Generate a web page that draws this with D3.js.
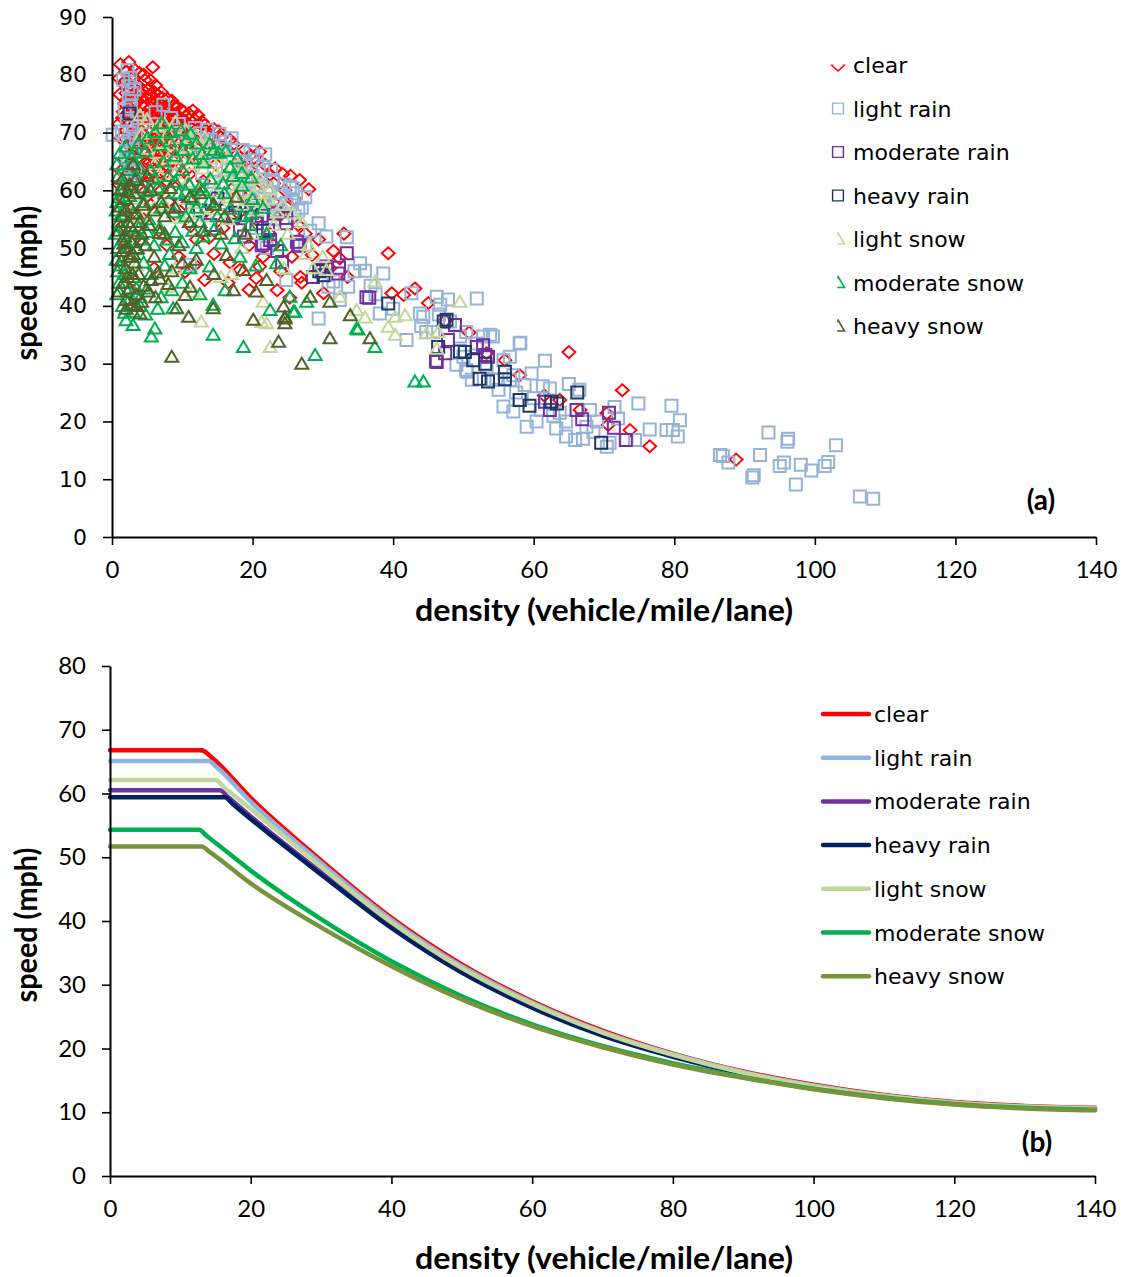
<!DOCTYPE html>
<html>
<head>
<meta charset="utf-8">
<script src="https://cdn.jsdelivr.net/npm/d3@7/dist/d3.min.js"></script>
<style>
  html, body { margin: 0; padding: 0; background: #fff; }
  svg { display: block; }
</style>
</head>
<body>
<svg id="fig" width="1123" height="1277"></svg>
<script>
// ---------- shared axis ticks ----------
const densityTicks = [0, 20, 40, 60, 80, 100, 120, 140];
const speedTicksA = [0, 10, 20, 30, 40, 50, 60, 70, 80, 90];
const speedTicksB = [0, 10, 20, 30, 40, 50, 60, 70, 80];
const conditions = ["clear", "light rain", "moderate rain", "heavy rain", "light snow", "moderate snow", "heavy snow"];

// ---------- panel (a): observed density / speed pairs ----------
const clearObs = [
  [1.2,81.8],[2.4,82.2],[2.0,80.5],[5.8,81.3],[1.0,79.4],[4.7,79.1],[3.5,78.2],[5.2,77.5],[6.5,76.5],[2.2,77.8],
  [3.0,76.4],[4.2,76.0],[5.6,75.2],[6.8,75.1],[7.5,74.3],[8.2,73.8],[1.8,75.0],[2.6,74.2],[3.8,73.6],[4.9,73.0],
  [6.0,72.6],[7.2,72.0],[8.6,72.5],[9.5,72.8],[10.4,72.0],[11.8,72.2],[13.2,71.3],[12.5,70.2],[1.5,72.5],[2.9,71.0],
  [4.0,70.5],[5.3,70.0],[6.4,69.4],[7.8,69.8],[9.0,70.6],[10.8,69.5],[1.3,69.0],[2.4,67.8],[3.6,67.2],[4.8,66.5],
  [6.1,66.8],[7.0,67.5],[8.4,67.2],[9.7,66.4],[1.7,65.5],[3.1,64.4],[4.5,63.8],[5.9,64.6],[7.3,64.0],[2.2,62.5],
  [1.0,61.0],[3.7,60.8],[6.6,62.0],[8.9,63.2],[14.5,70.6],[16.8,68.7],[15.5,69.2],[18.9,67.0],[17.8,66.2],[20.2,65.6],
  [21.8,64.4],[22.5,62.7],[24.3,62.8],[24.6,60.0],[23.0,61.2],[19.6,63.5],[21.0,61.5],[28.0,60.2],[26.0,58.5],
  [3.2,74.8],[4.4,72.4],[5.7,73.6],[6.9,70.8],[8.0,71.0],[3.4,69.6],[5.0,68.3],[2.0,70.3],[7.7,66.0],[4.0,65.4],
  [1.6,78.5],[2.8,79.8],[3.9,80.3],[4.3,77.4],[6.2,78.2],[7.0,77.0],[7.9,75.8],[8.8,74.6],[9.8,74.0],[10.9,73.3],
  [12.2,73.0],[1.1,76.6],[2.4,76.0],[3.4,75.3],[4.6,74.4],[5.1,75.9],[6.4,73.8],[7.6,73.1],[8.9,71.5],[10.0,70.9],
  [11.2,71.0],[12.8,71.9],[14.0,69.6],[15.2,70.2],[16.2,67.3],[17.3,68.0],[1.6,73.6],[2.5,72.9],[3.6,71.9],[4.7,71.3],
  [5.9,71.4],[7.0,70.3],[8.2,68.8],[9.3,68.2],[10.4,68.0],[11.6,68.6],[12.9,68.4],[1.0,71.5],[2.0,68.9],[3.1,68.6],
  [4.3,68.0],[5.6,67.6],[6.7,68.6],[7.6,65.5],[8.8,65.0],[10.1,65.0],[11.5,66.0],[2.5,66.3],[3.7,65.6],[4.9,64.9],
  [6.3,65.2],[1.3,63.4],[2.8,63.0],[4.1,62.2],[5.4,61.9],[6.9,63.1],[8.0,61.4],[9.9,61.5],[11.0,62.8],[13.0,61.6],
  [14.8,64.5],[16.0,62.5],[18.3,64.6],[19.6,66.0],[21.0,66.7],[23.2,63.8],[25.4,62.5],[26.7,61.8],[17.0,60.2],[19.0,58.6],
  [21.3,59.2],[23.0,58.0],[25.0,57.0],
  [2.0,79.0],[3.3,80.8],[4.5,80.0],[5.5,79.0],[6.0,77.0],[7.2,76.0],[8.5,75.5],[9.2,74.5],[10.2,73.6],[11.5,73.8],
  [3.0,77.8],[4.0,77.0],[5.3,76.5],[6.0,75.2],[7.0,74.8],[8.0,73.0],[9.0,73.2],[10.5,72.8],[2.0,76.8],[2.9,75.3],
  [4.2,74.8],[5.5,74.3],[6.6,74.5],[7.8,72.5],[9.2,71.8],[10.0,71.8],[11.0,72.3],[2.4,73.5],[3.5,72.7],[4.5,73.0],
  [5.8,72.8],[6.8,72.0],[8.1,71.5],[9.6,70.8],[11.8,70.3],[3.2,70.2],[4.6,69.6],[5.8,69.0],[7.2,68.8],[8.8,69.3],
  [10.2,69.5],[12.0,69.0],[13.5,70.2],[3.0,66.8],[4.2,66.8],[5.5,66.0],[6.9,66.3],[8.0,66.8],[9.2,67.2],[10.9,66.9],
  [12.2,67.5],[13.8,67.8],[15.0,68.0],[2.2,64.2],[3.4,63.5],[5.2,63.0],[6.4,63.8],[8.1,63.9],[9.5,64.2],[11.0,64.0],
  [12.3,65.2],[14.0,66.5],
  [1.5,58.5],[2.8,56.0],[1.2,53.5],[3.6,52.0],[2.1,50.0],[4.5,55.0],[5.5,57.5],[6.7,53.0],[7.8,50.5],[9.0,55.8],
  [10.4,45.9],[11.8,47.1],[13.2,44.5],[12.0,51.5],[14.5,49.0],[15.8,53.5],[16.8,47.5],[18.2,46.2],[19.5,50.5],[20.5,44.8],
  [21.5,48.5],[22.4,52.5],[23.5,42.7],[23.9,55.7],[25.3,41.4],[25.6,48.5],[24.0,46.0],[26.8,45.0],[27.5,52.5],[29.4,51.5],
  [30.1,42.2],[31.0,46.5],[32.4,48.2],[33.5,45.0],
  [5.0,59.0],[7.0,60.0],[8.0,58.0],[10.5,57.5],[12.0,59.5],[13.5,56.5],[15.0,58.5],[11.2,53.8],[13.8,51.8],[9.5,48.5],
  [6.0,46.5],[3.0,44.5],[16.5,44.0],[19.5,42.8],[21.0,46.8],[23.0,50.5],[18.0,56.0],[20.5,55.0],[26.5,54.0],[28.5,48.8],
  [27.0,44.0],[31.5,49.5],[33.0,52.5],
  [39.3,49.1],[39.8,42.2],[41.5,41.9],[43.1,43.0],[45.0,40.5],[47.4,37.4],[50.8,35.4],[53.3,31.8],[55.9,30.6],[63.7,23.7],
  [65.0,32.0],[66.6,22.0],[70.4,21.4],[70.6,19.4],[72.6,25.4],[73.7,18.5],[76.5,15.7],[88.8,13.4],[58.0,28.0],[61.5,24.5]
];
const lightRainObs = [
  [2.2,80.8],[2.6,79.5],[2.3,78.0],[2.8,76.8],[2.4,75.5],[2.7,74.5],[2.1,72.0],[2.9,71.0],[2.5,70.0],[2.3,68.5],
  [3.0,67.0],[2.2,65.5],[2.6,64.0],[1.9,62.5],[2.8,61.0],[0.1,69.6],[1.4,70.2],[3.4,69.3],
  [3.6,72.5],[1.8,74.0],[3.2,77.5],[1.6,79.2],[2.0,66.8],[3.3,63.2],[4.5,71.8],[6.2,73.5],[8.4,72.5],[10.3,70.0],
  [11.8,70.8],[13.5,70.5],[15.3,69.8],[17.0,69.0],[19.7,66.6],[21.8,66.2],[22.6,63.5],[24.5,61.0],[26.2,59.5],[27.5,58.8],
  [18.3,65.0],[16.0,67.2],[14.0,65.0],[20.8,61.0],[22.5,59.5],[24.8,57.8],[26.0,55.5],[23.0,55.0],[20.0,57.0],[18.8,59.5],
  [15.5,60.5],[13.2,58.5],[9.0,64.8],[30.5,52.0],[27.5,50.5],
  [7.3,74.8],[9.5,71.5],[12.5,69.9],[14.0,68.8],[16.1,68.4],[18.6,67.0],[20.6,65.2],[21.5,64.0],[22.9,61.8],[25.3,60.6],
  [19.0,64.2],[17.2,65.8],[15.0,66.5],[13.0,66.0],[11.0,67.5],[20.0,62.5],[22.0,60.5],[24.0,59.5],[23.5,57.5],[25.7,60.4],
  [25.6,58.0],[23.9,56.6],[21.5,58.5],[19.5,60.2],[18.0,62.0],[16.5,63.5],[17.8,59.0],[14.5,61.5],[12.8,63.0],[26.5,56.5],
  [28.2,53.0],[29.4,54.3],[27.0,57.0],[11.1,47.1],[24.8,44.5],[22.0,50.0],[20.5,53.5],[26.5,51.0],
  [33.4,51.9],[35.3,47.4],[36.0,46.1],[38.6,45.6],[33.6,43.3],[32.4,41.0],[29.4,37.8],[38.1,38.7],[42.6,42.2],[46.2,41.6],
  [47.8,41.1],[51.9,41.3],[43.8,38.7],[41.9,34.1],[44.7,35.5],[50.4,35.5],[52.8,34.7],[54.2,34.7],[58.0,33.5],[56.6,31.2],
  [56.6,27.2],[50.4,28.9],[51.2,27.2],[54.2,27.2],[31.5,44.2],[30.8,43.3],[44.3,38.1],[45.7,35.5],[46.7,40.2],[48.1,37.3],
  [49.0,29.8],[49.5,34.7],[50.0,31.2],[50.5,28.6],[51.9,33.5],[53.3,29.5],[53.8,35.0],[54.7,27.2],[55.7,30.6],[55.7,22.6],
  [57.1,28.0],[57.1,21.7],[58.0,23.7],[58.1,33.6],[58.7,26.3],[59.0,19.1],[59.7,28.3],[60.4,20.0],[61.3,26.1],[61.6,30.5],
  [62.3,25.7],[63.2,18.8],[63.7,21.5],[64.6,20.0],[64.6,17.4],[65.9,16.8],[67.5,19.1],[68.5,18.2],[70.4,15.6],[70.8,16.3],
  [73.2,16.8],[74.4,16.8],[74.9,23.1],[76.5,18.6],[78.9,18.5],[79.6,22.7],[79.8,18.5],[80.5,17.4],[80.8,20.2],[86.5,14.2],
  [86.9,14.0],[87.7,12.9],[91.1,10.3],[91.3,10.7],[92.2,14.2],[93.4,18.1],[95.0,12.3],[95.6,12.9],[96.1,16.5],[96.2,17.0],
  [97.3,9.1],[98.0,12.5],[99.5,11.5],[101.4,12.3],[101.9,13.0],[103.0,15.9],[106.4,7.0],[108.3,6.6],
  [34.5,46.0],[36.8,43.5],[40.0,39.5],[37.5,42.0],[44.0,36.5],[46.5,38.5],[57.5,25.0],[60.0,24.0],[62.8,21.0],[65.0,26.5],
  [66.5,25.5],[68.0,22.0],[69.0,20.0],[71.5,22.5],[72.0,20.5],[67.0,17.0],[61.0,22.0],[55.0,25.5]
];
const moderateRainObs = [
  [17.2,55.4],[19.1,55.7],[18.2,53.1],[20.6,54.3],[21.5,50.8],[22.5,51.4],[26.3,51.1],[24.8,54.3],[16.3,57.7],[23.2,56.0],
  [19.9,56.1],[21.3,55.6],[22.2,53.1],[21.3,50.5],[26.5,50.4],[24.2,47.6],[29.9,46.2],[32.3,46.6],[33.4,49.1],[36.6,41.4],
  [26.7,50.5],[24.8,55.2],[32.2,45.6],[30.5,46.8],[28.6,45.0],[36.2,41.5],[46.2,30.3],[47.4,31.8],[48.8,36.7],[52.8,33.2],
  [53.1,31.5],[47.8,34.1],[46.1,30.5],[51.9,32.9],[53.5,31.2],[61.6,23.4],[62.3,22.0],[66.1,22.0],[66.9,20.4],[70.7,21.5],
  [71.4,18.9],[73.1,16.8],[9.7,57.3],[14.0,54.0],[18.8,52.0],[23.5,49.5]
];
const heavyRainObs = [
  [2.5,73.3],[17.5,56.1],[15.0,58.6],[12.5,56.5],[19.8,57.5],[21.5,53.0],[30.1,45.3],[29.5,46.0],[39.3,40.4],[47.2,37.3],
  [46.4,32.9],[49.5,32.1],[51.4,30.6],[53.1,30.0],[52.3,27.4],[53.5,26.9],[55.9,28.6],[55.9,27.3],[58.0,23.7],[59.4,22.7],
  [62.5,23.4],[63.3,23.1],[66.2,25.0],[69.6,16.3],[47.6,37.6],[50.2,32.0]
];
const lightSnowObs = [
  [5.0,72.3],[6.5,71.0],[8.0,70.0],[9.5,69.0],[4.2,69.8],[7.0,68.2],[10.5,67.5],[12.0,66.8],[13.5,67.8],[15.0,67.0],
  [16.5,65.8],[18.0,64.5],[19.5,63.2],[21.0,62.0],[11.2,64.5],[13.0,63.8],[14.8,63.0],[16.5,62.3],[18.2,61.0],[20.2,59.5],
  [22.3,58.5],[9.0,63.0],[10.8,61.5],[12.6,60.5],[14.6,59.8],[16.6,58.7],[18.6,57.5],[20.6,56.5],[12.0,57.8],[14.2,56.8],
  [8.2,60.3],[6.0,64.5],[5.5,60.0],[7.5,57.5],[3.5,58.5],[4.0,55.5],[2.2,57.0],[9.8,55.2],[24.3,57.5],[25.8,56.0],
  [23.0,54.0],[27.0,54.5],
  [4.0,73.0],[6.0,70.0],[7.5,71.5],[9.0,71.8],[10.5,70.5],[12.0,69.5],[13.2,69.2],[11.0,68.8],[8.5,67.8],[6.5,66.5],
  [5.0,67.2],[8.0,65.5],[10.0,65.5],[12.5,65.2],[14.0,65.5],[15.8,64.0],[17.5,63.0],[19.0,61.8],[20.8,60.8],[22.5,60.2],
  [17.5,59.8],[19.3,58.3],[21.5,58.0],[23.5,56.2],[15.5,57.5],[13.5,55.5],[11.0,56.0],[16.5,55.0],[7.0,62.5],[10.0,58.5],
  [6.0,57.0],[20.0,52.5],[25.0,52.5],[28.0,50.5],[17.0,45.5],[9.0,46.5],[27.5,49.0],[24.5,46.5],
  [7.8,43.3],[11.6,42.5],[12.7,37.3],[21.5,40.7],[22.0,37.0],[22.5,32.9],[21.3,37.2],[15.5,45.0],[3.5,47.0],[18.5,50.0],
  [28.6,46.5],[30.5,46.2],[32.4,41.6],[34.8,39.3],[37.4,44.2],[39.3,36.4],[40.3,38.1],[41.7,38.4],[40.3,35.0],[44.7,35.2],
  [46.4,35.5],[46.2,32.6],[49.5,40.7],[30.0,48.5],[36.0,38.0]
];
const moderateSnowObs = [
  [6.1,70.1],[7.1,71.6],[8.5,70.1],[10.6,68.7],[12.0,68.1],[13.9,68.1],[10.1,67.0],[4.7,66.7],[1.1,66.4],[2.8,65.8],
  [7.3,65.0],[12.5,60.6],[9.0,66.0],[11.5,65.5],[13.0,64.8],[15.2,66.5],[16.8,64.0],[5.5,63.5],[8.0,62.5],[10.0,63.5],
  [14.0,62.0],[3.5,62.2],[1.5,61.0],[6.5,60.5],[9.5,59.5],[11.5,58.5],[13.8,58.0],[16.0,59.5],[18.5,60.8],[20.0,58.5],
  [21.5,57.0],[2.5,59.0],[4.5,58.0],[7.0,57.0],[8.8,56.2],[10.5,55.5],[12.5,54.5],[15.0,55.5],[17.5,51.7],[3.0,56.0],
  [5.2,55.0],[1.0,54.5],[6.8,53.5],[9.0,52.8],[2.0,52.5],[4.0,51.5],[0.8,50.0],[6.0,50.5],[8.2,49.0],[2.8,48.5],
  [1.2,47.0],[4.5,47.5],[3.2,45.0],[1.0,44.0],[5.5,45.5],[2.2,42.5],[4.0,41.5],[1.5,40.0],[3.0,39.0],[2.0,37.5],
  [4.8,38.5],[3.0,36.7],[1.3,55.8],[0.7,58.0],[0.9,62.5],[2.2,63.5],[0.6,48.0],[1.8,45.5],[2.5,50.0],[3.8,53.5],
  [5.0,69.0],[6.8,67.8],[3.8,68.2],[2.0,67.6],[8.2,68.5],[9.8,70.4],[11.2,69.8],[12.8,66.3],[14.5,67.0],[16.2,66.8],
  [17.8,65.5],[18.5,63.0],[19.8,62.2],[15.8,61.2],[17.2,62.5],[13.0,60.0],[11.0,61.0],[9.0,61.5],[7.5,59.5],[5.0,59.8],
  [3.0,60.5],[1.0,58.8],[4.0,63.8],[6.0,62.0],[10.5,59.8],[12.0,57.0],[14.5,57.5],[16.8,56.8],[18.5,55.6],[19.8,56.0],
  [1.8,53.8],[3.5,49.8],[5.0,52.8],[7.8,51.5],[10.0,51.0],[11.5,53.0],[13.0,52.0],[14.5,53.2],[1.5,51.5],[0.8,46.0],
  [2.0,44.0],[3.5,43.0],[0.7,42.0],[1.8,38.8],[4.0,40.0],[2.5,41.2],[6.5,39.5],[1.2,60.0],[0.7,64.5],[3.2,66.5],
  [0.5,52.5],[0.6,56.5],
  [7.5,47.0],[8.5,42.7],[8.7,39.6],[6.1,36.1],[5.6,34.7],[14.4,35.0],[14.4,40.2],[16.1,42.7],[18.7,32.9],[22.5,39.3],
  [25.3,41.6],[18.2,48.5],[23.4,47.4],[25.8,39.0],[13.9,46.8],[11.1,46.5],[27.7,40.7],[26.0,39.0],[34.8,36.1],[35.0,35.9],
  [37.4,32.9],[28.9,31.5],[43.1,26.9],[44.3,26.9],[19.5,54.0],[22.0,52.5],[24.0,50.5],[20.5,47.0],[12.0,50.0],[15.5,50.8],
  [10.0,44.0],[7.0,41.5],[5.0,43.0],[12.5,42.0]
];
const heavySnowObs = [
  [1.5,62.0],[2.5,61.0],[3.2,59.5],[1.8,58.5],[2.7,57.0],[3.5,56.0],[1.4,55.5],[2.3,54.5],[3.0,53.0],[1.8,52.0],
  [2.8,51.0],[3.6,50.0],[1.5,49.5],[2.4,48.5],[3.2,47.5],[1.9,46.5],[2.9,45.5],[1.6,44.0],[2.5,43.0],[3.4,42.0],
  [2.0,41.0],[1.3,60.2],[2.0,56.5],[2.6,53.8],[1.7,50.8],[3.9,54.5],[4.5,57.5],[5.5,60.0],[8.3,60.4],[11.1,58.9],
  [1.2,57.2],[2.2,59.8],[3.3,61.8],[4.2,60.5],[1.0,53.0],[2.0,50.0],[3.0,49.0],[4.2,52.5],[3.8,45.5],[1.3,47.8],
  [2.2,45.0],[4.5,43.5],[1.0,42.5],[2.0,39.5],[6.0,56.5],[5.3,54.0],[7.5,52.5],[6.5,45.8],[8.5,46.0],[10.0,47.5],
  [9.0,57.0],[11.0,54.5],[12.5,59.5],[14.5,57.5],[15.5,52.5],[3.5,40.0],[6.2,41.5],[8.0,43.8],
  [17.7,58.9],[6.8,52.6],[5.6,44.5],[6.8,44.7],[5.2,42.5],[4.2,40.7],[2.8,40.2],[4.0,38.7],[10.4,41.9],[10.9,38.1],
  [8.5,31.2],[9.2,39.6],[14.4,39.6],[17.3,42.7],[20.1,37.6],[23.7,33.8],[24.6,38.1],[24.6,37.0],[16.3,48.8],[18.7,46.2],
  [11.1,43.3],[27.0,30.0],[31.0,34.4],[36.7,34.4],[33.9,38.4],[28.2,41.6],[31.0,40.7],[24.4,39.9],[24.6,37.8],[7.5,55.5],
  [9.5,50.5],[13.0,53.0],[6.0,48.5],[4.8,50.5],[14.5,45.5],[20.5,42.5],[22.0,44.5],[12.0,48.0],[3.0,64.5],[5.0,62.5],
  [7.0,58.0],[16.0,55.5],[19.0,52.5]
];

// ---------- panel (b): fitted speed-density curves ----------
const clearFit = [[0,66.8],[13.0,66.8],[14.5,65.6],[20,59.3],[30,49.5],[40,40.5],[50,33.2],[60,27.4],[70,22.8],[80,19.2],[90,16.4],[100,14.3],[110,12.7],[120,11.6],[130,11.0],[140,10.7]];
const lightRainFit = [[0,65.1],[14.0,65.1],[15.3,64.0],[20,58.7],[30,49.1],[40,40.2],[50,32.9],[60,27.2],[70,22.6],[80,19.1],[90,16.3],[100,14.2],[110,12.6],[120,11.5],[130,10.9],[140,10.6]];
const moderateRainFit = [[0,60.5],[15.6,60.5],[16.8,59.4],[20,56.4],[30,47.6],[40,39.1],[50,32.1],[60,26.6],[70,22.2],[80,18.8],[90,16.1],[100,14.0],[110,12.5],[120,11.4],[130,10.8],[140,10.5]];
const heavyRainFit = [[0,59.4],[16.3,59.4],[17.5,58.3],[20,56.0],[30,47.3],[40,38.9],[50,31.9],[60,26.4],[70,22.0],[80,18.7],[90,16.0],[100,13.9],[110,12.4],[120,11.4],[130,10.8],[140,10.5]];
const lightSnowFit = [[0,62.1],[15.0,62.1],[16.2,61.0],[20,57.6],[30,48.5],[40,39.8],[50,32.6],[60,27.0],[70,22.5],[80,19.0],[90,16.2],[100,14.1],[110,12.6],[120,11.5],[130,10.9],[140,10.6]];
const moderateSnowFit = [[0,54.3],[12.6,54.3],[13.8,53.3],[20,47.9],[30,40.3],[40,33.7],[50,28.2],[60,23.8],[70,20.4],[80,17.7],[90,15.5],[100,13.7],[110,12.3],[120,11.3],[130,10.7],[140,10.4]];
const heavySnowFit = [[0,51.7],[13.0,51.7],[14.2,50.8],[20,45.9],[30,39.0],[40,32.9],[50,27.7],[60,23.5],[70,20.2],[80,17.5],[90,15.4],[100,13.6],[110,12.2],[120,11.2],[130,10.6],[140,10.3]];

// ---------- styling ----------
const markerStyle = [
  { shape: "diamond",  color: "#FF0000", width: 1.9 },
  { shape: "square",   color: "#95B3D7", width: 2.0 },
  { shape: "square",   color: "#7030A0", width: 2.0 },
  { shape: "square",   color: "#1F3864", width: 2.0 },
  { shape: "triangle", color: "#C3D69B", width: 2.0 },
  { shape: "triangle", color: "#00B050", width: 2.0 },
  { shape: "triangle", color: "#4F6228", width: 2.0 }
];
const lineColors = ["#FF0000", "#8DB4E2", "#7030A0", "#002060", "#C3D69B", "#00B050", "#77933C"];
const observed = [clearObs, lightRainObs, moderateRainObs, heavyRainObs, lightSnowObs, moderateSnowObs, heavySnowObs];
const fitted = [clearFit, lightRainFit, moderateRainFit, heavyRainFit, lightSnowFit, moderateSnowFit, heavySnowFit];

const shapes = {
  diamond: "M0,-6L6.5,0L0,6L-6.5,0Z",
  square: "M-6,-6H6V6H-6Z",
  triangle: "M0,-6L6.5,5L-6.5,5Z"
};

const svg = d3.select("#fig");
svg.append("rect").attr("width", 1123).attr("height", 1277).attr("fill", "#fff");
const defs = svg.append("defs");

const tickFont = "Lato, 'Liberation Sans', sans-serif";
const wideFont = "'DejaVu Sans', Verdana, sans-serif";

function styleAxis(g, font, size) {
  g.select(".domain").attr("stroke", "#000").attr("stroke-width", 2);
  g.selectAll(".tick line").attr("stroke", "#000").attr("stroke-width", 1.6);
  g.selectAll(".tick text").attr("fill", "#000").style("font-family", font).style("font-size", size + "px");
}

// ================= panel (a) =================
const xa = d3.scaleLinear().domain([0, 140]).range([112, 1096]);
const ya = d3.scaleLinear().domain([0, 90]).range([537, 17]);

const pa = svg.append("g");
observed.forEach((pts, i) => {
  const st = markerStyle[i];
  pa.append("g").selectAll("path").data(pts).join("path")
    .attr("d", shapes[st.shape])
    .attr("transform", d => `translate(${xa(d[0])},${ya(d[1])})`)
    .attr("fill", "none")
    .attr("stroke", st.color)
    .attr("stroke-width", st.width);
});

const axA = svg.append("g").attr("transform", "translate(0,537)")
  .call(d3.axisBottom(xa).tickValues(densityTicks).tickSize(8).tickSizeOuter(0).tickPadding(16).tickFormat(d3.format("d")));
styleAxis(axA, tickFont, 24);
const ayA = svg.append("g").attr("transform", "translate(112,0)")
  .call(d3.axisLeft(ya).tickValues(speedTicksA).tickSize(9).tickSizeOuter(0).tickPadding(16).tickFormat(d3.format("d")));
styleAxis(ayA, wideFont, 22);

svg.append("text").attr("x", 604).attr("y", 621).attr("text-anchor", "middle")
  .style("font-family", tickFont).style("font-weight", "bold").style("font-size", "30px")
  .attr("textLength", 378).attr("lengthAdjust", "spacingAndGlyphs")
  .text("density (vehicle/mile/lane)");
svg.append("text").attr("transform", "translate(37,283) rotate(-90)").attr("text-anchor", "middle")
  .style("font-family", tickFont).style("font-weight", "bold").style("font-size", "30px")
  .attr("textLength", 155).attr("lengthAdjust", "spacingAndGlyphs")
  .text("speed (mph)");
svg.append("text").attr("x", 1041).attr("y", 510).attr("text-anchor", "middle")
  .style("font-family", tickFont).style("font-weight", "bold").style("font-size", "28px").text("(a)");

// legend (a): the diamond and triangle keys show only part of the marker
const legA = svg.append("g");
conditions.forEach((name, i) => {
  const cy = 65 + i * 43.5, cx = 838;
  const st = markerStyle[i];
  const key = legA.append("g").attr("transform", `translate(${cx},${cy})`);
  let clipRect = null;
  if (st.shape === "diamond") clipRect = { x: -8, y: -0.5, w: 16, h: 9 };
  else if (st.shape === "triangle") clipRect = { x: -0.8, y: -8, w: 10, h: 16 };
  const mark = key.append("path").attr("d", shapes[st.shape])
    .attr("fill", "none").attr("stroke", st.color).attr("stroke-width", 1.6);
  if (st.shape === "square") mark.attr("transform", "scale(0.9)");
  if (clipRect) {
    const clipId = "keyclip" + i;
    defs.append("clipPath").attr("id", clipId).append("rect")
      .attr("x", clipRect.x).attr("y", clipRect.y).attr("width", clipRect.w).attr("height", clipRect.h);
    mark.attr("clip-path", `url(#${clipId})`);
  }
  legA.append("text").attr("x", 853).attr("y", cy + 8)
    .style("font-family", wideFont).style("font-size", "22px").attr("fill", "#000").text(name);
});

// ================= panel (b) =================
const xb = d3.scaleLinear().domain([0, 140]).range([110, 1095]);
const yb = d3.scaleLinear().domain([0, 80]).range([1176, 666]);

const line = d3.line().x(d => xb(d[0])).y(d => yb(d[1])).curve(d3.curveMonotoneX);
const pb = svg.append("g");
fitted.forEach((pts, i) => {
  pb.append("path").datum(pts).attr("d", line)
    .attr("fill", "none").attr("stroke", lineColors[i]).attr("stroke-width", 4.5)
    .attr("stroke-linejoin", "round").attr("stroke-linecap", "round");
});

const axB = svg.append("g").attr("transform", "translate(0,1176)")
  .call(d3.axisBottom(xb).tickValues(densityTicks).tickSize(8).tickSizeOuter(0).tickPadding(16).tickFormat(d3.format("d")));
styleAxis(axB, tickFont, 24);
const ayB = svg.append("g").attr("transform", "translate(110,0)")
  .call(d3.axisLeft(yb).tickValues(speedTicksB).tickSize(8).tickSizeOuter(0).tickPadding(16).tickFormat(d3.format("d")));
styleAxis(ayB, tickFont, 24);

svg.append("text").attr("x", 604).attr("y", 1269).attr("text-anchor", "middle")
  .style("font-family", tickFont).style("font-weight", "bold").style("font-size", "30px")
  .attr("textLength", 378).attr("lengthAdjust", "spacingAndGlyphs")
  .text("density (vehicle/mile/lane)");
svg.append("text").attr("transform", "translate(37,925) rotate(-90)").attr("text-anchor", "middle")
  .style("font-family", tickFont).style("font-weight", "bold").style("font-size", "30px")
  .attr("textLength", 155).attr("lengthAdjust", "spacingAndGlyphs")
  .text("speed (mph)");
svg.append("text").attr("x", 1037).attr("y", 1152).attr("text-anchor", "middle")
  .style("font-family", tickFont).style("font-weight", "bold").style("font-size", "28px").text("(b)");

const legB = svg.append("g");
conditions.forEach((name, i) => {
  const cy = 714 + i * 43.7;
  legB.append("line").attr("x1", 823).attr("x2", 869).attr("y1", cy).attr("y2", cy)
    .attr("stroke", lineColors[i]).attr("stroke-width", 4.5).attr("stroke-linecap", "round");
  legB.append("text").attr("x", 874).attr("y", cy + 8)
    .style("font-family", wideFont).style("font-size", "22px").attr("fill", "#000").text(name);
});
</script>
</body>
</html>
